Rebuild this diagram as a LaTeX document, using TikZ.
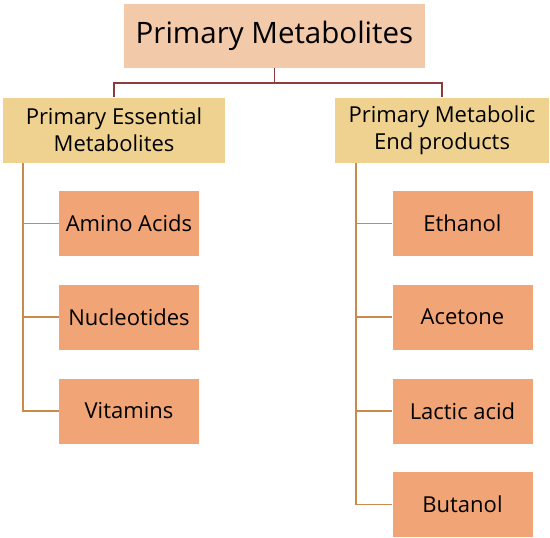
\documentclass[tikz,border=0pt]{standalone}
\usepackage{fontspec}
\setmainfont{Open Sans}
\definecolor{topfill}{HTML}{F2C9A9}
\definecolor{midfill}{HTML}{EFD290}
\definecolor{leaffill}{HTML}{F1A475}
\definecolor{topline}{HTML}{8E3B3B}
\definecolor{sideline}{HTML}{C98A4E}
\begin{document}
\begin{tikzpicture}[x=1pt,y=-1pt,
  topbox/.style={rectangle,fill=topfill,minimum width=301pt,minimum height=64pt,inner sep=0pt,font=\fontsize{29.5}{34}\selectfont},
  midbox/.style={rectangle,fill=midfill,minimum height=65pt,inner sep=0pt,align=center,font=\fontsize{22}{27}\selectfont},
  leafbox/.style={rectangle,fill=leaffill,minimum width=140pt,minimum height=65pt,inner sep=0pt,font=\fontsize{22}{26}\selectfont},
  toplink/.style={draw=topline,line width=1.8pt},
  sidelink/.style={draw=sideline,line width=1.8pt}]
\useasboundingbox (0,0) rectangle (550,538);
\node[topbox] (top) at (274.5,36) {Primary Metabolites};
\node[midbox,minimum width=222pt] (ess) at (114,130) {Primary Essential\\Metabolites};
\node[midbox,minimum width=214pt] (end) at (442,130) {Primary Metabolic\\End products};
\node[leafbox] (amino) at (129,223.5) {Amino Acids};
\node[leafbox] (nucl) at (129,317) {Nucleotides};
\node[leafbox] (vit) at (129,411) {Vitamins};
\node[leafbox] (eth) at (462.5,223.5) {Ethanol};
\node[leafbox] (ace) at (462.5,317) {Acetone};
\node[leafbox] (lac) at (462.5,411) {Lactic acid};
\node[leafbox] (but) at (462.5,504.5) {Butanol};
\coordinate (split) at ([yshift=-15pt]top.south);
\draw[toplink] (top.south) -- (split) -| (ess.north);
\draw[toplink] (split) -| (end.north);
\coordinate (la) at ([xshift=20pt]ess.south west);
\coordinate (ra) at ([xshift=21pt]end.south west);
\draw[sidelink] (la) |- (vit.west);
\draw[sidelink] (la |- amino.west) -- (amino.west);
\draw[sidelink] (la |- nucl.west) -- (nucl.west);
\draw[sidelink] (ra) |- (but.west);
\draw[sidelink] (ra |- eth.west) -- (eth.west);
\draw[sidelink] (ra |- ace.west) -- (ace.west);
\draw[sidelink] (ra |- lac.west) -- (lac.west);
\end{tikzpicture}
\end{document}
